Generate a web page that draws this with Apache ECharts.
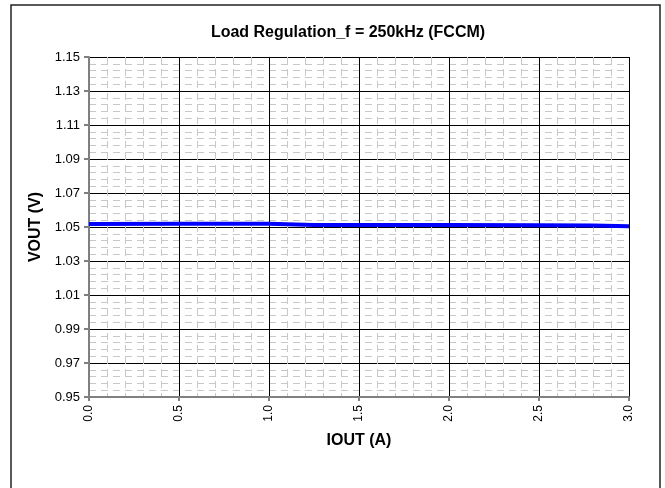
<!DOCTYPE html>
<html>
<head>
<meta charset="utf-8">
<script src="https://cdn.jsdelivr.net/npm/echarts@6/dist/echarts.min.js"></script>
<style>
html,body{margin:0;padding:0;background:#fff;}
#chart{width:665px;height:488px;}
</style>
</head>
<body>
<div id="chart"></div>
<script>
const titleText = 'Load Regulation_f = 250kHz (FCCM)';
const xName = 'IOUT (A)';
const yName = 'VOUT (V)';
const iout = [0.0, 0.5, 1.0, 1.25, 1.5, 2.0, 2.5, 2.8, 3.0];
const vout = [1.0518, 1.0519, 1.0519, 1.0512, 1.0512, 1.0512, 1.0511, 1.0509, 1.0504];
const yTicks = [0.95, 0.97, 0.99, 1.01, 1.03, 1.05, 1.07, 1.09, 1.11, 1.13, 1.15];

const chart = echarts.init(document.getElementById('chart'), null, {renderer: 'canvas'});
const font = 'Liberation Sans, Arial, sans-serif';
chart.setOption({
  animation: false,
  backgroundColor: '#fff',
  title: {
    text: titleText, left: 343, top: 20, textAlign: 'center',
    textStyle: {fontFamily: font, fontSize: 16, fontWeight: 'bold', color: '#000'}
  },
  graphic: [{
    type: 'rect', shape: {x: 11, y: 5, width: 649, height: 500},
    style: {fill: 'none', stroke: '#222', lineWidth: 1.5}, z: 100, silent: true
  }],
  grid: {left: 89, top: 57, width: 540, height: 340},
  xAxis: {
    type: 'value', min: 0, max: 3, interval: 0.5,
    name: xName, nameLocation: 'middle', nameGap: 36,
    nameTextStyle: {fontFamily: font, fontSize: 16, fontWeight: 'bold', color: '#000'},
    axisLine: {show: true, lineStyle: {color: '#808080', width: 2}},
    axisTick: {show: true, length: 4, lineStyle: {color: '#808080', width: 2}},
    axisLabel: {rotate: 90, fontFamily: font, fontSize: 12, color: '#000', margin: 8,
      formatter: v => v.toFixed(1)},
    splitLine: {show: true, lineStyle: {color: '#000', width: 1}},
    minorTick: {show: false, splitNumber: 5},
    minorSplitLine: {show: true, lineStyle: {color: '#c8c8c8', width: 1, type: [7, 5]}}
  },
  yAxis: {
    type: 'value', min: 0.95, max: 1.15, interval: 0.02,
    name: yName, nameLocation: 'middle', nameGap: 45,
    nameTextStyle: {fontFamily: font, fontSize: 16, fontWeight: 'bold', color: '#000'},
    axisLine: {show: true, lineStyle: {color: '#808080', width: 2}},
    axisTick: {show: true, length: 5, lineStyle: {color: '#808080', width: 2}, customValues: yTicks},
    axisLabel: {fontFamily: font, fontSize: 13, color: '#000', margin: 9, customValues: yTicks,
      formatter: v => v.toFixed(2)},
    splitLine: {show: true, lineStyle: {color: '#000', width: 1}},
    minorTick: {show: false, splitNumber: 5},
    minorSplitLine: {show: true, lineStyle: {color: '#c8c8c8', width: 1, type: [7, 5]}}
  },
  series: [{
    type: 'line', data: iout.map((x, i) => [x, vout[i]]),
    showSymbol: false, symbol: 'none',
    lineStyle: {color: '#0000ff', width: 4}, z: 10
  }]
});
</script>
</body>
</html>
